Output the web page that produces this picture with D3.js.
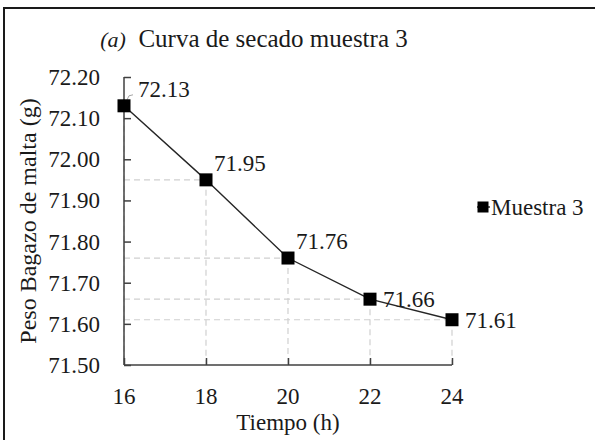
<!DOCTYPE html>
<html>
<head>
<meta charset="utf-8">
<script src="https://cdn.jsdelivr.net/npm/d3@7"></script>
<style>
  body { margin: 0; background: #fff; }
  svg text { font-family: "Liberation Serif", "DejaVu Serif", serif; }
</style>
</head>
<body>
<div id="chart"></div>
<script>
// data
const tiempo = [16, 18, 20, 22, 24]
const peso = [72.13, 71.95, 71.76, 71.66, 71.61]
const labelSide = ["up", "up", "up", "right", "right"]
const xTicks = [16, 18, 20, 22, 24]
const yTicks = [71.5, 71.6, 71.7, 71.8, 71.9, 72.0, 72.1, 72.2]
const seriesName = "Muestra 3"

const width = 595,
    height = 440;

const svg = d3.select("#chart")
    .append("svg")
    .attr("width", width)
    .attr("height", height)

svg.append("rect")
    .attr("width", width)
    .attr("height", height)
    .attr("fill", "#fff")

// outer frame (cut off at right / bottom like the source)
svg.append("rect")
    .attr("x", 4)
    .attr("y", 8)
    .attr("width", 620)
    .attr("height", 460)
    .attr("fill", "none")
    .attr("stroke", "#1a1a1a")
    .attr("stroke-width", 2)

const x = d3.scaleLinear().domain([16, 24]).range([124, 452])
const y = d3.scaleLinear().domain([71.5, 72.2]).range([365, 77])

const pts = tiempo.map((t, i) => ({ t: t, v: peso[i], side: labelSide[i] }))

// drop lines
svg.selectAll(".hdrop")
    .data(pts)
    .join("line")
    .attr("x1", x(16))
    .attr("x2", d => x(d.t))
    .attr("y1", d => y(d.v))
    .attr("y2", d => y(d.v))
    .attr("stroke", "#d0d0d0")
    .attr("stroke-width", 1.2)
    .attr("stroke-dasharray", "6,4")

svg.selectAll(".vdrop")
    .data(pts)
    .join("line")
    .attr("x1", d => x(d.t))
    .attr("x2", d => x(d.t))
    .attr("y1", d => y(d.v))
    .attr("y2", y(71.5))
    .attr("stroke", "#d0d0d0")
    .attr("stroke-width", 1.2)
    .attr("stroke-dasharray", "6,4")

// axes
const yAxis = svg.append("g")
    .attr("transform", `translate(${x(16)},0)`)
    .call(d3.axisRight(y).tickValues(yTicks).tickSize(7).tickFormat(""))
const xAxis = svg.append("g")
    .attr("transform", `translate(0,${y(71.5)})`)
    .call(d3.axisTop(x).tickValues(xTicks).tickSize(7).tickFormat(""))

for (const ax of [xAxis, yAxis]) {
    ax.select(".domain").attr("stroke", "#404040").attr("stroke-width", 1.5)
    ax.selectAll(".tick line").attr("stroke", "#404040").attr("stroke-width", 1.5)
}
yAxis.select(".domain").attr("d", `M0,${y(72.2)}V${y(71.5)}`)
xAxis.select(".domain").attr("d", `M${x(16)},0H${x(24)}`)

svg.selectAll(".ylab")
    .data(yTicks)
    .join("text")
    .attr("x", 100)
    .attr("y", d => y(d))
    .attr("dy", "0.35em")
    .attr("text-anchor", "end")
    .attr("font-size", 23)
    .attr("fill", "#1a1a1a")
    .text(d => d.toFixed(2))

svg.selectAll(".xlab")
    .data(xTicks)
    .join("text")
    .attr("x", d => x(d))
    .attr("y", 396)
    .attr("dy", "0.35em")
    .attr("text-anchor", "middle")
    .attr("font-size", 23)
    .attr("fill", "#1a1a1a")
    .text(d => d)

// axis titles
svg.append("text")
    .attr("x", x(20))
    .attr("y", 422)
    .attr("dy", "0.35em")
    .attr("text-anchor", "middle")
    .attr("font-size", 23)
    .attr("fill", "#1a1a1a")
    .text("Tiempo (h)")

svg.append("text")
    .attr("transform", `translate(28,${y(71.85)}) rotate(-90)`)
    .attr("dy", "0.35em")
    .attr("text-anchor", "middle")
    .attr("font-size", 24)
    .attr("fill", "#1a1a1a")
    .text("Peso Bagazo de malta (g)")

// title
const title = svg.append("text")
    .attr("x", 254)
    .attr("y", 38)
    .attr("dy", "0.35em")
    .attr("text-anchor", "middle")
    .attr("font-size", 25)
    .attr("fill", "#1a1a1a")
title.append("tspan").attr("font-style", "italic").attr("font-size", 22).text("(a)")
title.append("tspan").text("\u2002Curva de secado muestra 3")

// series line
svg.append("path")
    .datum(pts)
    .attr("d", d3.line().x(d => x(d.t)).y(d => y(d.v)))
    .attr("fill", "none")
    .attr("stroke", "#262626")
    .attr("stroke-width", 1.4)

// leader for first label
svg.append("path")
    .attr("d", `M${x(16) - 1},${y(peso[0]) + 2}L${x(16) + 5},${y(peso[0]) - 10}L${x(16) + 9},${y(peso[0]) - 11}`)
    .attr("fill", "none")
    .attr("stroke", "#a6a6a6")
    .attr("stroke-width", 1)

svg.selectAll(".mk")
    .data(pts)
    .join("rect")
    .attr("x", d => x(d.t) - 6.5)
    .attr("y", d => y(d.v) - 6.5)
    .attr("width", 13)
    .attr("height", 13)
    .attr("fill", "#000")

svg.selectAll(".dl")
    .data(pts)
    .join("text")
    .attr("x", (d, i) => x(d.t) + (i === 0 ? 14 : d.side === "up" ? 8 : 13))
    .attr("y", d => y(d.v) + (d.side === "up" ? -17 : 0))
    .attr("dy", "0.35em")
    .attr("font-size", 23)
    .attr("fill", "#1a1a1a")
    .text(d => d.v.toFixed(2))

// legend
const lg = svg.append("g").attr("transform", "translate(483,207)")
lg.append("line").attr("x1", -6).attr("x2", 7).attr("stroke", "#262626").attr("stroke-width", 1.4)
lg.append("rect").attr("x", -5.5).attr("y", -5.5).attr("width", 11).attr("height", 11).attr("fill", "#000")
lg.append("text")
    .attr("x", 8)
    .attr("dy", "0.35em")
    .attr("font-size", 23)
    .attr("fill", "#1a1a1a")
    .text(seriesName)
</script>
</body>
</html>
